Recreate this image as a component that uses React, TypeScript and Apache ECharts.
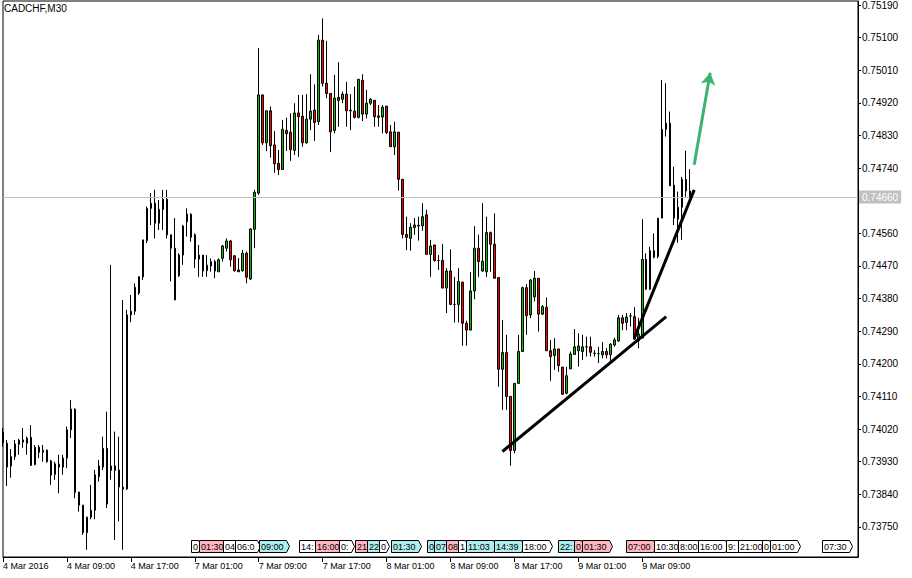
import React, { useEffect, useRef } from "react";
import * as echarts from "echarts";

// ---------- categories (30-minute bars, weekend skipped) ----------
const DAY_NAMES = ["4 Mar", "7 Mar", "8 Mar", "9 Mar", "10 Mar"];
const FIRST_SLOT = 2; // first visible bar on 4 Mar is 01:00
const SLOT_COUNT = 215; // visible bars + right shift area
const FIRST_LABEL = "4 Mar 2016";

function buildCategories(): string[] {
  const out: string[] = [];
  for (let d = 0; d < DAY_NAMES.length && out.length < SLOT_COUNT; d++) {
    for (let s = d === 0 ? FIRST_SLOT : 0; s < 48 && out.length < SLOT_COUNT; s++) {
      const hh = String(Math.floor(s / 2)).padStart(2, "0");
      const mm = s % 2 ? "30" : "00";
      out.push(`${DAY_NAMES[d]} ${hh}:${mm}`);
    }
  }
  return out;
}
const categories = buildCategories();

// ---------- OHLC values: [open, close, low, high] ----------
const ohlc: number[][] = [
  [0.74012, 0.73982, 0.73971, 0.74023],
  [0.73981, 0.73915, 0.73863, 0.7399],
  [0.73918, 0.73944, 0.73886, 0.73965],
  [0.73944, 0.73979, 0.73935, 0.7399],
  [0.73978, 0.73989, 0.73949, 0.73993],
  [0.7399, 0.73984, 0.73968, 0.74023],
  [0.73981, 0.73995, 0.73949, 0.73999],
  [0.73997, 0.7392, 0.73918, 0.74031],
  [0.73922, 0.7397, 0.7392, 0.73976],
  [0.7397, 0.73956, 0.7394, 0.73976],
  [0.73961, 0.73956, 0.7393, 0.73976],
  [0.73962, 0.7393, 0.73927, 0.73963],
  [0.73932, 0.73893, 0.73866, 0.73935],
  [0.73895, 0.73924, 0.7388, 0.7393],
  [0.73923, 0.73915, 0.73843, 0.73949],
  [0.73915, 0.7394, 0.73894, 0.73949],
  [0.7394, 0.74018, 0.73912, 0.74027],
  [0.74018, 0.74075, 0.73995, 0.741],
  [0.74075, 0.73845, 0.73829, 0.74077],
  [0.73846, 0.7381, 0.73792, 0.73847],
  [0.7381, 0.73734, 0.73728, 0.73811],
  [0.73734, 0.73777, 0.73687, 0.73778],
  [0.73777, 0.73796, 0.73771, 0.73866],
  [0.73796, 0.73894, 0.73771, 0.73907],
  [0.73889, 0.73918, 0.73875, 0.73935],
  [0.73915, 0.73967, 0.73907, 0.73999],
  [0.73967, 0.73813, 0.73802, 0.74068],
  [0.73906, 0.73918, 0.7388, 0.74473],
  [0.73918, 0.73906, 0.73714, 0.74013],
  [0.73907, 0.7386, 0.73765, 0.73999],
  [0.7386, 0.73854, 0.73687, 0.74376],
  [0.73855, 0.74335, 0.73852, 0.74349],
  [0.74335, 0.74345, 0.74315, 0.7439],
  [0.74345, 0.74411, 0.74335, 0.74422],
  [0.74395, 0.7444, 0.7439, 0.74442],
  [0.7444, 0.74542, 0.74431, 0.74542],
  [0.7454, 0.74629, 0.74533, 0.74634],
  [0.74629, 0.74643, 0.74583, 0.74671],
  [0.74643, 0.74588, 0.74546, 0.7468],
  [0.74588, 0.74626, 0.74569, 0.74652],
  [0.74626, 0.74654, 0.74569, 0.7468],
  [0.74654, 0.74556, 0.74546, 0.7468],
  [0.74556, 0.74519, 0.74427, 0.74556],
  [0.74519, 0.74376, 0.74376, 0.74602],
  [0.74443, 0.745, 0.7444, 0.74505],
  [0.745, 0.7458, 0.74473, 0.74583],
  [0.74592, 0.74613, 0.74551, 0.74629],
  [0.74613, 0.74549, 0.74537, 0.74615],
  [0.74556, 0.74489, 0.74464, 0.7456],
  [0.74489, 0.745, 0.7444, 0.74528],
  [0.745, 0.74456, 0.7444, 0.745],
  [0.74457, 0.74472, 0.7444, 0.745],
  [0.7447, 0.74482, 0.74454, 0.74491],
  [0.74482, 0.74456, 0.74436, 0.74487],
  [0.74454, 0.74487, 0.74454, 0.74491],
  [0.74491, 0.74525, 0.74482, 0.74528],
  [0.74519, 0.74539, 0.7451, 0.74546],
  [0.74539, 0.74487, 0.74468, 0.74542],
  [0.74498, 0.74457, 0.74454, 0.745],
  [0.74459, 0.74454, 0.74454, 0.74492],
  [0.74457, 0.74505, 0.74454, 0.74514],
  [0.74505, 0.74439, 0.74422, 0.7451],
  [0.74434, 0.74572, 0.74431, 0.74574],
  [0.74571, 0.74673, 0.74519, 0.7468],
  [0.74671, 0.74942, 0.74666, 0.75071],
  [0.74942, 0.7481, 0.74804, 0.74942],
  [0.7481, 0.74898, 0.74787, 0.74898],
  [0.74898, 0.74802, 0.74769, 0.7491],
  [0.74804, 0.74752, 0.74727, 0.74842],
  [0.74753, 0.74736, 0.74721, 0.7479],
  [0.74736, 0.74847, 0.74736, 0.74873],
  [0.74844, 0.74835, 0.74787, 0.74879],
  [0.74839, 0.74791, 0.7476, 0.74891],
  [0.74789, 0.74892, 0.74776, 0.74919],
  [0.74892, 0.74882, 0.74771, 0.74942],
  [0.74883, 0.7481, 0.74799, 0.74942],
  [0.7481, 0.74875, 0.74807, 0.74944],
  [0.74875, 0.74897, 0.74845, 0.74999],
  [0.749, 0.74866, 0.74815, 0.74971],
  [0.74868, 0.75093, 0.74859, 0.75107],
  [0.75093, 0.74974, 0.74965, 0.75153],
  [0.74974, 0.74946, 0.74933, 0.75091],
  [0.74946, 0.7484, 0.74784, 0.74946],
  [0.74844, 0.74933, 0.74836, 0.74997],
  [0.74935, 0.74927, 0.74854, 0.75032],
  [0.7493, 0.74944, 0.74919, 0.74951],
  [0.74944, 0.74898, 0.74854, 0.74978],
  [0.749, 0.74898, 0.74845, 0.74944],
  [0.74897, 0.7488, 0.74877, 0.74965],
  [0.7488, 0.74985, 0.74877, 0.74985],
  [0.74982, 0.74889, 0.7487, 0.74999],
  [0.74889, 0.74919, 0.74877, 0.74956],
  [0.74919, 0.7493, 0.74914, 0.74933],
  [0.74927, 0.74882, 0.74854, 0.74927],
  [0.74884, 0.7488, 0.74854, 0.74914],
  [0.74881, 0.74908, 0.74836, 0.74914],
  [0.74911, 0.74838, 0.74834, 0.74911],
  [0.7484, 0.74799, 0.74799, 0.74859],
  [0.74799, 0.7484, 0.74776, 0.74868],
  [0.74839, 0.74709, 0.74678, 0.74839],
  [0.74709, 0.74557, 0.74546, 0.74709],
  [0.74557, 0.74549, 0.74514, 0.74606],
  [0.74546, 0.74577, 0.74512, 0.74588],
  [0.74576, 0.74583, 0.74556, 0.74602],
  [0.7458, 0.74582, 0.7454, 0.74606],
  [0.74581, 0.74606, 0.74567, 0.74643],
  [0.74611, 0.74502, 0.74502, 0.74625],
  [0.74502, 0.74525, 0.7444, 0.74542],
  [0.74528, 0.74485, 0.74482, 0.74528],
  [0.74485, 0.74485, 0.74459, 0.745],
  [0.74485, 0.74409, 0.74409, 0.74531],
  [0.74409, 0.74456, 0.7434, 0.74464],
  [0.74456, 0.74364, 0.74362, 0.74516],
  [0.74364, 0.74364, 0.74314, 0.7444],
  [0.74364, 0.74427, 0.74314, 0.74464],
  [0.74425, 0.74312, 0.7425, 0.74427],
  [0.74312, 0.74293, 0.7425, 0.74319],
  [0.74293, 0.74401, 0.74293, 0.74453],
  [0.74401, 0.74519, 0.74378, 0.7458],
  [0.74519, 0.74482, 0.7444, 0.74556],
  [0.74456, 0.74483, 0.74454, 0.74643],
  [0.74454, 0.74562, 0.7444, 0.74606],
  [0.74562, 0.7453, 0.74454, 0.74565],
  [0.7453, 0.74436, 0.74436, 0.74615],
  [0.74438, 0.74185, 0.74137, 0.74438],
  [0.74185, 0.74231, 0.74073, 0.74321],
  [0.74231, 0.7411, 0.74073, 0.7428],
  [0.7411, 0.73961, 0.73919, 0.74111],
  [0.73961, 0.74146, 0.73953, 0.74146],
  [0.74146, 0.74234, 0.74146, 0.7428],
  [0.74234, 0.7441, 0.74234, 0.74413],
  [0.7441, 0.74333, 0.7428, 0.7442],
  [0.74335, 0.74431, 0.74326, 0.74434],
  [0.74385, 0.74436, 0.74372, 0.74456],
  [0.74436, 0.74337, 0.74289, 0.74436],
  [0.74337, 0.74358, 0.74335, 0.74362],
  [0.74356, 0.74236, 0.74236, 0.74383],
  [0.74236, 0.7422, 0.74153, 0.74266],
  [0.74223, 0.74241, 0.74183, 0.74271],
  [0.74241, 0.74195, 0.74178, 0.74241],
  [0.74191, 0.74116, 0.74116, 0.74191],
  [0.74119, 0.74167, 0.74116, 0.74192],
  [0.74186, 0.74227, 0.74186, 0.74234],
  [0.74226, 0.74247, 0.74226, 0.74296],
  [0.74236, 0.74249, 0.74192, 0.74284],
  [0.74234, 0.74247, 0.74211, 0.7428],
  [0.74247, 0.74247, 0.7422, 0.74275],
  [0.74247, 0.74232, 0.7422, 0.74275],
  [0.74229, 0.74229, 0.7422, 0.74238],
  [0.74228, 0.74228, 0.74202, 0.74247],
  [0.74225, 0.74234, 0.74215, 0.7426],
  [0.74234, 0.74225, 0.74215, 0.74243],
  [0.74225, 0.74254, 0.74206, 0.74257],
  [0.74252, 0.74266, 0.74247, 0.74272],
  [0.74263, 0.74327, 0.74261, 0.74335],
  [0.74327, 0.74312, 0.74293, 0.74335],
  [0.74314, 0.74329, 0.74293, 0.7434],
  [0.74332, 0.74332, 0.74303, 0.7434],
  [0.7433, 0.74268, 0.74266, 0.74356],
  [0.74264, 0.74282, 0.74243, 0.74327],
  [0.74271, 0.74488, 0.74271, 0.74599],
  [0.74488, 0.74406, 0.74404, 0.74505],
  [0.74406, 0.74512, 0.74404, 0.74523],
  [0.74512, 0.74494, 0.74491, 0.7456],
  [0.74496, 0.74602, 0.74491, 0.74602],
  [0.74602, 0.74847, 0.74602, 0.74983],
  [0.74847, 0.74864, 0.74827, 0.74974],
  [0.74864, 0.74691, 0.74691, 0.74896],
  [0.74693, 0.74602, 0.74583, 0.74744],
  [0.74599, 0.74632, 0.74534, 0.74675],
  [0.74632, 0.74709, 0.74542, 0.74716],
  [0.74709, 0.74677, 0.74661, 0.74788],
  [0.74677, 0.7466, 0.7466, 0.74737],
];

// ---------- price axis ticks ----------
const priceTicks = [
  0.7375, 0.7384, 0.7393, 0.7402, 0.7411, 0.742, 0.7429, 0.7438, 0.7447,
  0.7456, 0.7465, 0.7474, 0.7483, 0.7492, 0.7501, 0.751, 0.7519,
];
const priceLabels = priceTicks.filter((v) => Math.abs(v - 0.7465) > 1e-7);
const priceMin = 0.73667;
const priceMax = 0.75201;
const bidPrice = 0.7466;

// ---------- trend lines [startIndex, startPrice, endIndex, endPrice] ----------
const supportLine = [125, 0.73958, 166, 0.7433];
const steepLine = [158, 0.74271, 173, 0.7468];
const arrowLine = [173, 0.74749, 177, 0.75003];

// ---------- calendar events ----------
const eventTimes = [
  "7 Mar 00:30", "7 Mar 01:30", "7 Mar 04:30", "7 Mar 06:00", "7 Mar 09:00",
  "7 Mar 14:00", "7 Mar 16:00", "7 Mar 19:00", "7 Mar 21:00", "7 Mar 22:30",
  "8 Mar 00:00", "8 Mar 01:30", "8 Mar 06:00", "8 Mar 07:00", "8 Mar 08:30",
  "8 Mar 10:00", "8 Mar 11:00", "8 Mar 14:30", "8 Mar 18:00", "8 Mar 22:30",
  "9 Mar 00:30", "9 Mar 01:30", "9 Mar 07:00", "9 Mar 10:30", "9 Mar 13:30",
  "9 Mar 16:00", "9 Mar 19:30", "9 Mar 21:00", "10 Mar 00:00", "10 Mar 01:00",
  "10 Mar 07:30",
];
const eventLabels = [
  "0", "01:30", "04", "06:0", "09:00",
  "14:", "16:00", "0:", "21", "22",
  "0", "01:30", "0", "07", "08",
  "1", "11:03", "14:39", "18:00", "22:",
  "0", "01:30", "07:00", "10:30", "8:00",
  "16:00", "9:", "21:00", "0", "01:00",
  "07:30",
];
const eventKinds = [
  "w", "p", "w", "w", "c",
  "w", "p", "w", "p", "c",
  "w", "c", "c", "c", "p",
  "w", "c", "c", "w", "c",
  "p", "p", "p", "w", "w",
  "w", "w", "w", "w", "w",
  "w",
];
const KIND_FILL: Record<string, string> = { w: "#FFFFFF", p: "#FFB6C1", c: "#AFEEEE" };

const FONT = "Liberation Sans";

export default function App() {
  const ref = useRef<HTMLDivElement>(null);

  useEffect(() => {
    if (!ref.current) return;
    const chart = echarts.init(ref.current, undefined, { renderer: "svg" });
    const nBars = ohlc.length;
    const lastSlot = categories.length - 1;
    const showIdx = (i: number) => i % 16 === 0 && i < nBars;

    const option: any = {
      animation: false,
      backgroundColor: "#FFFFFF",
      title: {
        text: "CADCHF,M30",
        left: 4,
        top: 3,
        padding: 0,
        textStyle: { fontSize: 10, fontWeight: "normal", color: "#000", fontFamily: FONT },
      },
      grid: {
        left: 2,
        right: 54,
        top: 1,
        bottom: 21,
        show: true,
        borderColor: "#000",
        borderWidth: 1,
        backgroundColor: "#FFFFFF",
      },
      xAxis: {
        type: "category",
        data: categories,
        boundaryGap: false,
        axisLine: { show: true, lineStyle: { color: "#000", width: 1 } },
        axisTick: {
          show: true,
          interval: (i: number) => showIdx(i),
          length: 5,
          lineStyle: { color: "#000" },
        },
        axisLabel: {
          interval: (i: number) => showIdx(i),
          formatter: (v: string, i: number) => (i === 0 ? FIRST_LABEL : v),
          align: "left",
          color: "#000",
          fontSize: 9,
          fontFamily: FONT,
          margin: 4,
        },
        splitLine: { show: false },
      },
      yAxis: {
        type: "value",
        position: "right",
        min: priceMin,
        max: priceMax,
        scale: true,
        axisLine: { show: true, lineStyle: { color: "#000", width: 1 } },
        axisTick: { show: true, length: 3, customValues: priceTicks, lineStyle: { color: "#000" } },
        axisLabel: {
          customValues: priceLabels,
          formatter: (v: number) => v.toFixed(5),
          color: "#000",
          fontSize: 10,
          fontFamily: FONT,
          margin: 4,
        },
        splitLine: { show: false },
      },
      series: [
        {
          type: "candlestick",
          data: ohlc,
          barWidth: 2,
          clip: true,
          itemStyle: {
            color: "#00C000",
            color0: "#FF0000",
            borderColor: "#000000",
            borderColor0: "#000000",
            borderColorDoji: "#000000",
            borderWidth: 1,
          },
          markLine: {
            silent: true,
            symbol: ["none", "none"],
            animation: false,
            data: [
              [
                {
                  coord: [0, bidPrice],
                  lineStyle: { color: "#C0C0C0", width: 1, type: "solid" },
                  label: {
                    show: true,
                    position: "end",
                    distance: 1,
                    formatter: () => bidPrice.toFixed(5),
                    color: "#FFFFFF",
                    backgroundColor: "#C0C0C0",
                    padding: [2, 3, 1, 3],
                    fontSize: 10,
                    fontFamily: FONT,
                  },
                },
                { coord: [lastSlot, bidPrice] },
              ],
              [
                { coord: [supportLine[0], supportLine[1]], lineStyle: { color: "#000", width: 3, type: "solid" }, label: { show: false } },
                { coord: [supportLine[2], supportLine[3]] },
              ],
              [
                { coord: [steepLine[0], steepLine[1]], lineStyle: { color: "#000", width: 3, type: "solid" }, label: { show: false } },
                { coord: [steepLine[2], steepLine[3]] },
              ],
              [
                {
                  coord: [arrowLine[0], arrowLine[1]],
                  symbol: "none",
                  lineStyle: { color: "#3CB371", width: 3, type: "solid" },
                  label: { show: false },
                },
                { coord: [arrowLine[2], arrowLine[3]], symbol: "arrow", symbolSize: [11, 12] },
              ],
            ],
          },
          z: 2,
        },
        {
          type: "custom",
          silent: true,
          z: 5,
          clip: false,
          encode: { x: 0, y: 1 },
          data: eventTimes.map((t) => [categories.indexOf(t), bidPrice]),
          renderItem: (params: any, api: any) => {
            const i = params.dataIndex;
            const cs = params.coordSys;
            const x = Math.round(api.coord([api.value(0), bidPrice])[0]) + 0.5;
            const bottom = cs.y + cs.height - 4.5;
            const top = bottom - 12;
            const mid = (top + bottom) / 2;
            const label = eventLabels[i];
            const w = Math.max(6, label.length * 5 + 2);
            return {
              type: "group",
              children: [
                {
                  type: "polygon",
                  shape: {
                    points: [
                      [x, top],
                      [x + w, top],
                      [x + w + 3, mid],
                      [x + w, bottom],
                      [x, bottom],
                    ],
                  },
                  style: { fill: KIND_FILL[eventKinds[i]], stroke: "#000", lineWidth: 1 },
                },
                {
                  type: "text",
                  style: {
                    text: label,
                    x: x + 1.5,
                    y: mid + 0.5,
                    align: "left",
                    verticalAlign: "middle",
                    fontSize: 9,
                    fontFamily: FONT,
                    fill: "#000",
                  },
                },
              ],
            };
          },
        },
      ],
    };

    chart.setOption(option);
    return () => chart.dispose();
  }, []);

  return (
    <div
      ref={ref}
      style={{ position: "fixed", left: 0, top: 0, width: 912, height: 578, background: "#fff" }}
    />
  );
}
